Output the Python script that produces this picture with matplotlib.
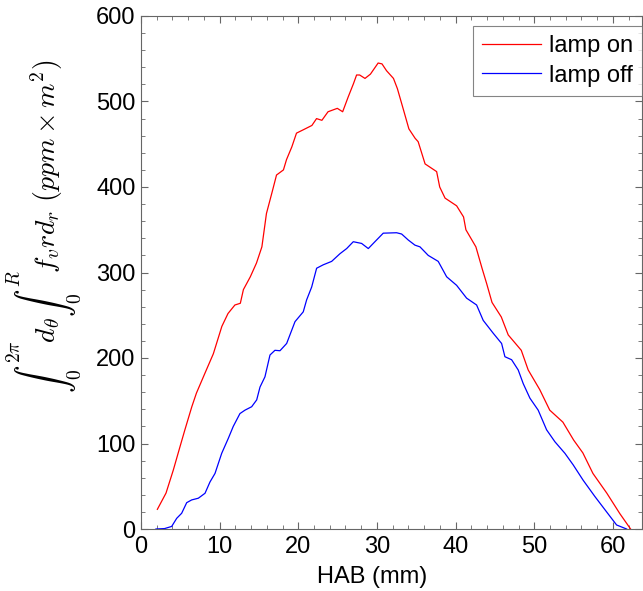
import matplotlib
matplotlib.use("Agg")
import matplotlib.pyplot as plt
from matplotlib.ticker import MultipleLocator

plt.rcParams['font.family'] = ['Liberation Sans', 'DejaVu Sans']
plt.rcParams['mathtext.fontset'] = 'cm'

# lamp on (red)
hab_on = [2.08, 3.18, 4.11, 4.95, 5.58, 6.46, 7.05, 8.12, 9.20, 10.28, 11.06, 11.94,
          12.63, 13.02, 13.90, 14.68, 15.37, 15.95, 16.64, 17.23, 18.11, 18.50, 19.18,
          19.77, 20.65, 21.73, 22.32, 23.00, 23.78, 24.96, 25.64, 26.33, 27.02, 27.41,
          27.80, 28.48, 29.17, 30.15, 30.64, 31.22, 32.10, 32.60, 33.38, 34.06, 34.85,
          35.24, 36.12, 37.59, 37.98, 38.66, 40.13, 41.01, 41.31, 42.58, 43.36, 43.95,
          44.63, 45.81, 46.69, 48.35, 49.23, 50.70, 51.97, 53.64, 55.01, 56.18, 57.46,
          59.22, 60.88, 62.25]
val_on = [23, 42, 69, 96, 116, 143, 159, 182, 205, 237, 252, 262,
          264, 280, 295, 311, 330, 369, 393, 414, 420, 432, 447,
          463, 467, 472, 480, 478, 488, 492, 488, 505, 521, 531,
          531, 527, 532, 545, 544, 536, 527, 515, 490, 468, 457,
          453, 427, 418, 400, 387, 378, 365, 350, 330, 305, 287,
          265, 248, 227, 209, 186, 163, 139, 125, 104, 89, 65,
          42, 18, 0]

# lamp off (blue)
hab_off = [1.9, 3.0, 3.9, 4.54, 5.17, 5.81, 6.44, 7.29, 8.14, 8.77, 9.41, 10.26,
           11.10, 11.73, 12.58, 13.22, 14.07, 14.71, 15.13, 15.76, 16.40, 17.03, 17.67,
           18.52, 19.58, 20.63, 21.06, 21.70, 22.33, 23.17, 24.24, 25.30, 26.15, 26.99,
           28.05, 28.90, 29.74, 30.80, 32.50, 33.14, 33.98, 34.83, 35.47, 36.52, 37.79,
           38.86, 40.13, 41.40, 42.67, 43.51, 44.78, 45.85, 46.27, 47.12, 47.96, 48.60,
           49.45, 50.50, 51.57, 52.63, 53.90, 54.95, 56.22, 57.71, 59.20, 60.47, 61.74]
val_off = [0, 0.5, 3, 12.5, 18.4, 30.8, 34, 36, 41.8, 55, 65, 88.5,
           106, 120, 135, 139, 143, 151, 166, 178, 203.5, 209, 208.5,
           217, 242.5, 254, 268, 283, 305, 309, 313, 322, 328, 336,
           334, 328, 336, 346, 346.5, 345, 338, 332, 330, 320, 313,
           295, 285, 270, 262, 244, 229, 217, 201.5, 198, 186, 170,
           153, 139, 116, 102, 88.5, 75, 57, 38, 20, 4.7, 0]

fig = plt.figure(figsize=(6.43, 5.91), dpi=100)
ax = fig.add_axes([141/643, 62/591, 501/643, 513/591])

ax.plot(hab_on, val_on, color='#ff0000', lw=0.9, label='lamp on')
ax.plot(hab_off, val_off, color='#0000ff', lw=0.9, label='lamp off')

ax.set_xlim(0, 63.7)
ax.set_ylim(0, 600)
ax.xaxis.set_major_locator(MultipleLocator(10))
ax.xaxis.set_minor_locator(MultipleLocator(2))
ax.yaxis.set_major_locator(MultipleLocator(100))
ax.yaxis.set_minor_locator(MultipleLocator(20))
ax.tick_params(which='both', direction='in', top=True, right=True, color='0.4',
               labelsize=17, labelcolor='black')
ax.tick_params(which='major', length=5, width=0.8)
ax.tick_params(which='minor', length=3, width=0.6)
ax.tick_params(axis='x', pad=5)
ax.tick_params(axis='y', pad=4)
for s in ax.spines.values():
    s.set_color('0.4')
    s.set_linewidth(0.8)

ax.set_xlabel('HAB (mm)', fontsize=17)
ax.xaxis.set_label_coords(0.461, -0.072)
ax.set_ylabel(r'$\int_0^{2\pi} d_\theta \int_0^R f_v r d_r\ (ppm \times m^2)$', fontsize=20)
ax.yaxis.set_label_coords(-0.115, 0.59)

leg = ax.legend(loc='upper left', bbox_to_anchor=(0.6627, 0.9805), borderaxespad=0,
                fontsize=17, frameon=True, fancybox=False, handlelength=2.5,
                handletextpad=0.3, labelspacing=0.3, borderpad=0.4)
leg.get_frame().set_edgecolor('0.4')
leg.get_frame().set_linewidth(0.8)

fig.savefig('out.png', dpi=100)
